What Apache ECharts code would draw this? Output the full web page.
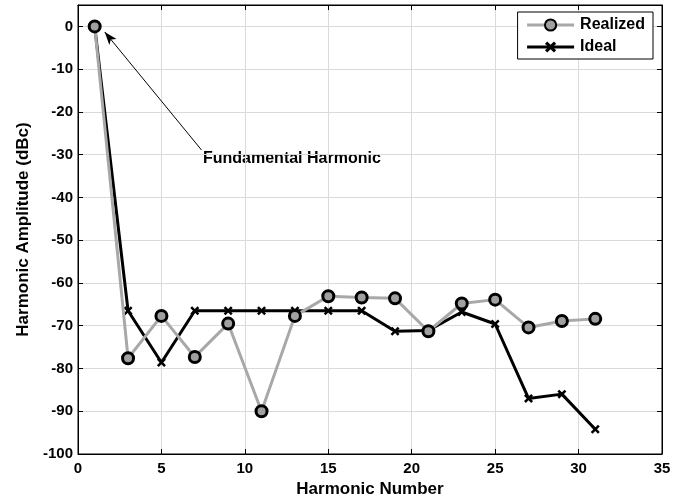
<!DOCTYPE html>
<html>
<head>
<meta charset="utf-8">
<script src="https://cdn.jsdelivr.net/npm/echarts@6/dist/echarts.min.js"></script>
<style>
  html, body { margin: 0; padding: 0; background: #fff; }
  #chart { width: 684px; height: 499px; }
</style>
</head>
<body>
<div id="chart"></div>
<script>
// harmonic orders (odd harmonics)
var harmonics = [1, 3, 5, 7, 9, 11, 13, 15, 17, 19, 21, 23, 25, 27, 29, 31];
// measured levels, dBc
var realized = [0, -77.6, -67.7, -77.3, -69.5, -90.0, -67.7, -63.1, -63.4, -63.6, -71.3, -64.8, -63.9, -70.4, -68.9, -68.4];
// ideal levels, dBc
var ideal = [0, -66.5, -78.6, -66.5, -66.5, -66.5, -66.5, -66.5, -66.5, -71.3, -71.1, -66.8, -69.6, -87.0, -86.0, -94.2];

var font = 'Liberation Sans, Arial, sans-serif';
// fat "x" marker
var xMark = 'path://M0,2L2,0L5,3L8,0L10,2L7,5L10,8L8,10L5,7L2,10L0,8L3,5Z';

function pairs(xs, ys) {
    var out = [];
    for (var i = 0; i < xs.length; i++) out.push([xs[i], ys[i]]);
    return out;
}

var chart = echarts.init(document.getElementById('chart'));

var axisLine = { onZero: false, lineStyle: { color: '#000', width: 1 } };
var axisTick = { inside: true, length: 5, lineStyle: { color: '#000' } };
var labelStyle = { color: '#000', fontFamily: font, fontWeight: 'bold', fontSize: 15 };
var nameStyle = { color: '#000', fontFamily: font, fontWeight: 'bold', fontSize: 17 };

chart.setOption({
    animation: false,
    backgroundColor: '#fff',
    grid: {
        left: 78, right: 22, top: 5, bottom: 45,
        outerBoundsMode: 'none', containLabel: false,
        show: true, borderColor: '#000', borderWidth: 1
    },
    legend: {
        data: ['Realized', 'Ideal'],
        orient: 'vertical',
        right: 31,
        top: 12,
        itemWidth: 47,
        itemHeight: 14,
        itemGap: 6,
        padding: [5, 8, 4, 8],
        borderColor: '#000',
        borderWidth: 1,
        borderRadius: 0,
        backgroundColor: '#fff',
        lineStyle: { width: 3 },
        textStyle: { color: '#000', fontFamily: font, fontWeight: 'bold', fontSize: 16, padding: [0, 0, 0, 1] }
    },
    xAxis: [
        {
            type: 'value', min: 0, max: 35, interval: 5,
            name: 'Harmonic Number', nameLocation: 'middle', nameGap: 25,
            nameTextStyle: nameStyle,
            axisLine: axisLine, axisTick: axisTick,
            axisLabel: Object.assign({ margin: 7 }, labelStyle),
            splitLine: { show: true, lineStyle: { color: '#dadada' } }
        },
        {
            type: 'value', min: 0, max: 35, interval: 5, position: 'top',
            axisLine: axisLine, axisTick: axisTick,
            axisLabel: { show: false }, splitLine: { show: false }
        }
    ],
    yAxis: [
        {
            type: 'value', min: -100, max: 5, interval: 10,
            name: 'Harmonic Amplitude (dBc)', nameLocation: 'middle', nameGap: 35,
            nameTextStyle: nameStyle,
            axisLine: axisLine, axisTick: axisTick,
            axisLabel: Object.assign({ margin: 5, showMaxLabel: false }, labelStyle),
            splitLine: { show: true, lineStyle: { color: '#dadada' } }
        },
        {
            type: 'value', min: -100, max: 5, interval: 10, position: 'right',
            axisLine: axisLine, axisTick: axisTick,
            axisLabel: { show: false }, splitLine: { show: false }
        }
    ],
    graphic: [{
        type: 'text', left: 203, top: 151,
        style: { text: 'Fundamental Harmonic', fill: '#000', font: 'bold 16px ' + font }
    }],
    series: [
        {
            name: 'Ideal', type: 'line', data: pairs(harmonics, ideal),
            symbol: xMark, symbolSize: 9, showAllSymbol: true,
            lineStyle: { color: '#000', width: 3 },
            itemStyle: { color: '#000' },
            z: 3,
            markLine: {
                silent: true,
                symbol: ['none', 'arrow'],
                symbolSize: [7, 13],
                label: { show: false },
                lineStyle: { color: '#000', width: 1, type: 'solid' },
                data: [[{ coord: [7.4, -28.9] }, { coord: [1.6, -1.3] }]]
            }
        },
        {
            name: 'Realized', type: 'line', data: pairs(harmonics, realized),
            symbol: 'circle', symbolSize: 11, showAllSymbol: true,
            lineStyle: { color: '#a8a8a8', width: 3 },
            itemStyle: { color: '#a0a0a0', borderColor: '#000', borderWidth: 3 },
            z: 4
        }
    ]
});
</script>
</body>
</html>
